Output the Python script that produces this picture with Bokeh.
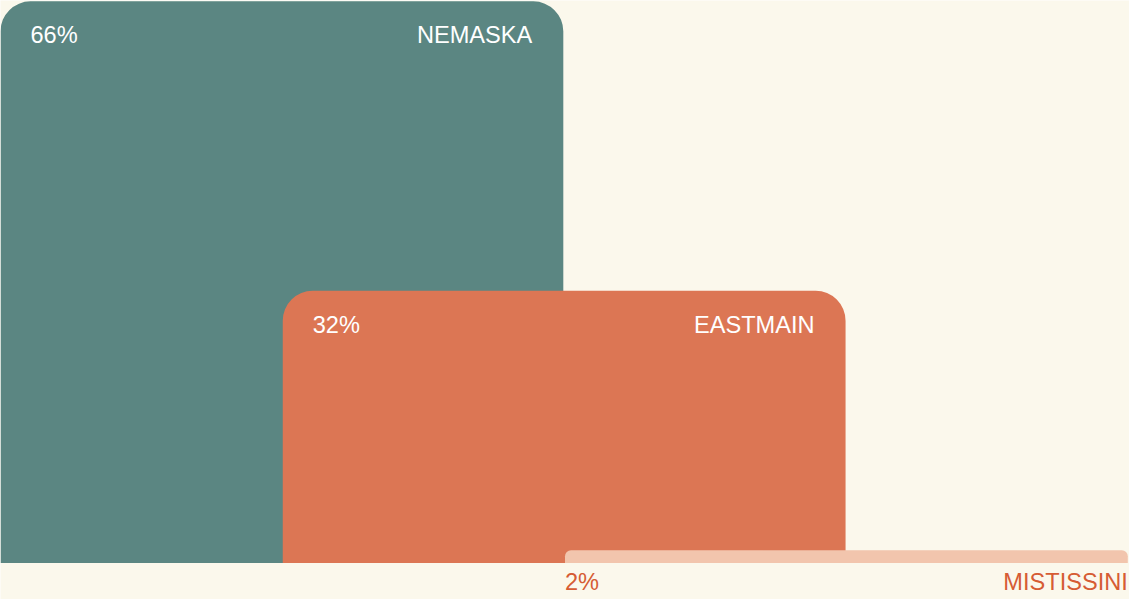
from bokeh.plotting import figure
from bokeh.models import Range1d
from bokeh.core.properties import value
from bokeh.embed import file_html
from bokeh.resources import INLINE

# ---- data ----
communities = ["NEMASKA", "EASTMAIN", "MISTISSINI"]
shares = [66, 32, 1.5]
labels = ["66%", "32%", "2%"]
colors = ["#5B8682", "#DC7654", "#F2C5AD"]

BG = "#FBF8EC"
TEXT_OUT = "#D65C34"

step = 0.5
bar_w = 0.997
left = [i * step for i in range(len(communities))]
right = [l + bar_w for l in left]

p = figure(width=1129, height=599, output_backend="svg", toolbar_location=None,
           x_range=Range1d(0, 2), y_range=Range1d(-4.3, 66.1),
           min_border=0, background_fill_color=BG, border_fill_color=BG,
           outline_line_color=None)
p.axis.visible = False
p.grid.visible = False

FONT = value("Liberation Sans")
FS = "23.6px"

for i in range(len(communities)):
    radius = (30, 30, 0, 0) if shares[i] > 5 else (6, 6, 0, 0)
    p.quad(left=[left[i]], right=[right[i]], top=[shares[i]], bottom=[0],
           fill_color=colors[i], line_color=None, border_radius=radius)
    if shares[i] > 5:
        p.text(x=[left[i]], y=[shares[i]], text=[labels[i]], x_offset=30, y_offset=34,
               text_color="white", text_font=FONT, text_font_size=FS,
               text_align="left", text_baseline="middle")
        p.text(x=[right[i]], y=[shares[i]], text=[communities[i]], x_offset=-31, y_offset=34,
               text_color="white", text_font=FONT, text_font_size=FS,
               text_align="right", text_baseline="middle")
    else:
        p.text(x=[left[i]], y=[0], text=[labels[i]], x_offset=0, y_offset=6,
               text_color=TEXT_OUT, text_font=FONT, text_font_size=FS,
               text_align="left", text_baseline="top")
        p.text(x=[right[i]], y=[0], text=[communities[i]], x_offset=0, y_offset=6,
               text_color=TEXT_OUT, text_font=FONT, text_font_size=FS,
               text_align="right", text_baseline="top")

open("out.html", "w").write(file_html(p, INLINE))
